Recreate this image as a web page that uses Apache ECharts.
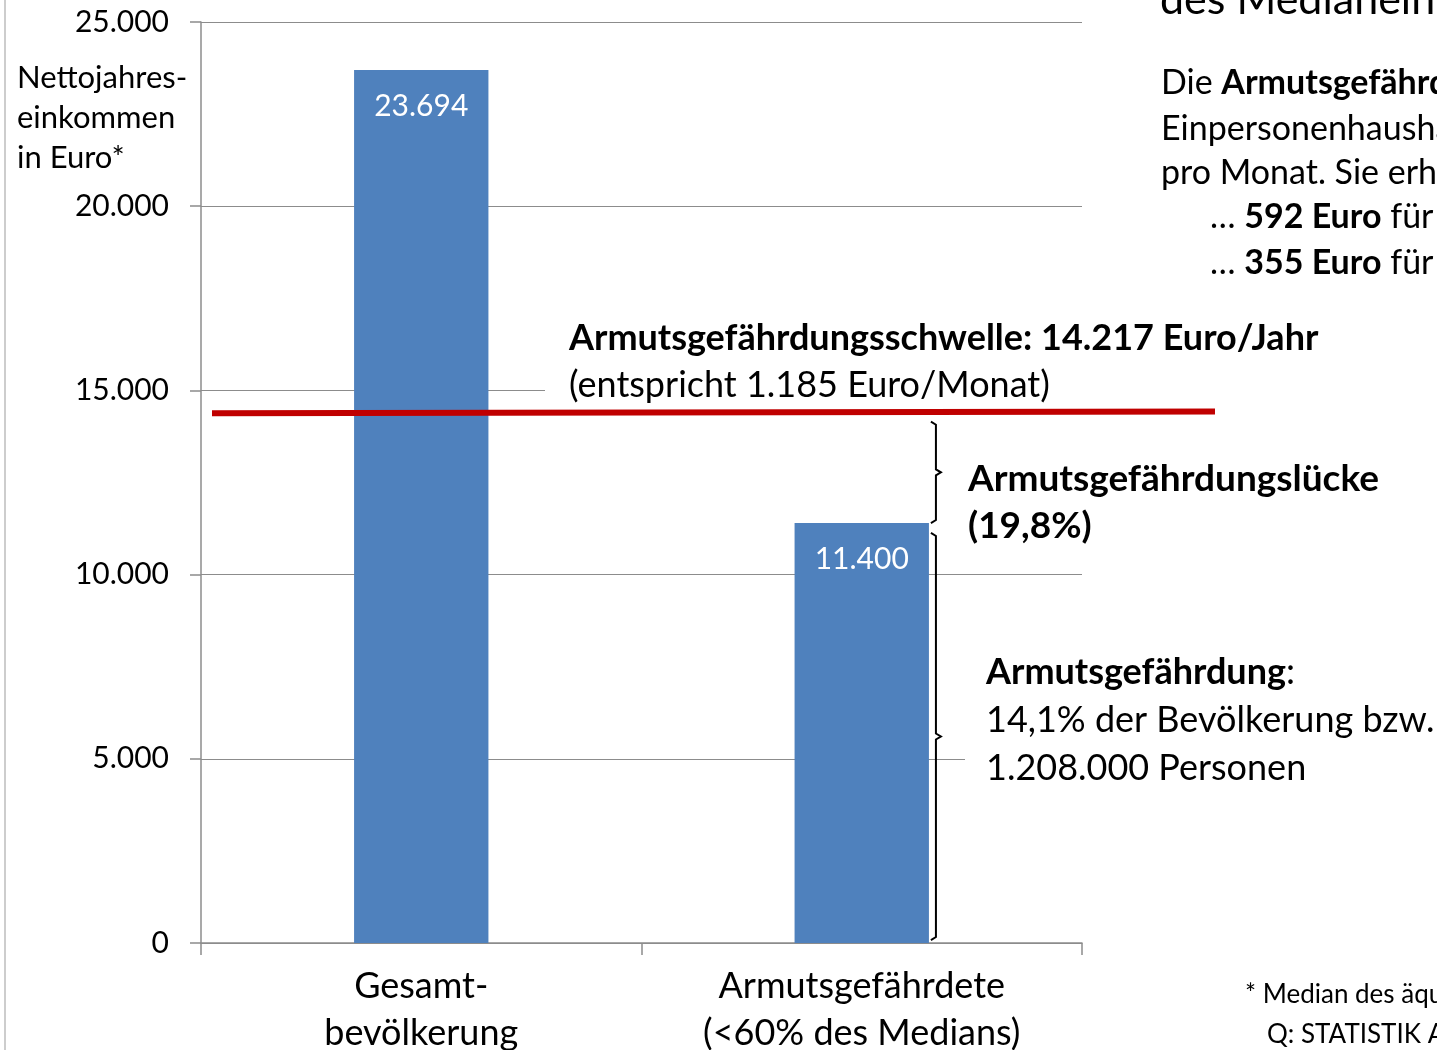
<!DOCTYPE html>
<html>
<head>
<meta charset="utf-8">
<script src="https://cdn.jsdelivr.net/npm/echarts@6/dist/echarts.min.js"></script>
<style>
  html, body { margin: 0; padding: 0; background: #fff; }
  #chart { width: 1437px; height: 1050px; }
</style>
</head>
<body>
<div id="chart"></div>
<script>
// data
const categories = ['Gesamt-\nbevölkerung', 'Armutsgefährdete\n(<60% des Medians)']
const incomeValues = [23694, 11400]
const yMin = 0
const yMax = 25000
const yStep = 5000
// red threshold line as drawn (slightly rising to the right)
const thresholdLine = [[0, 14380], [1, 14430]]
// brackets on the right of the second bar: [category, from, to]
const brackets = [[1, 14150, 11400], [1, 11130, 80]]

const FONT = 'Lato, "Noto Sans", sans-serif'
const fmt = v => String(v).replace(/\B(?=(\d{3})+(?!\d))/g, '.')

const chart = echarts.init(document.getElementById('chart'))

const bracketItem = (params, api) => {
  const cat = api.value(0)
  const top = api.coord([cat, api.value(1)])
  const bot = api.coord([cat, api.value(2)])
  const band = api.size([1, 0])[0]
  const x = top[0] + band * 0.305 / 2 + 7
  const mid = (top[1] + bot[1]) / 2
  return {
    type: 'polyline',
    shape: {
      points: [[x - 5, top[1]], [x, top[1] + 3], [x, mid - 3], [x + 5, mid],
        [x, mid + 3], [x, bot[1] - 3], [x - 5, bot[1]]]
    },
    style: { stroke: '#000', lineWidth: 2, fill: null }
  }
}

const txt = (x, y, text, size, rich, extra) => Object.assign({
  type: 'text',
  x: x,
  y: y,
  z: 10,
  style: Object.assign({
    text: text,
    fontFamily: FONT,
    fontSize: size,
    fill: '#000',
    verticalAlign: 'middle',
    rich: rich || {}
  }, extra || {})
})

const b = (size, lh) => ({ fontWeight: 'bold', fontSize: size, fontFamily: FONT, fill: '#000', lineHeight: lh })
const n = (size, lh) => ({ fontSize: size, fontFamily: FONT, fill: '#000', lineHeight: lh })

const option = {
  backgroundColor: '#fff',
  animation: false,
  grid: [
    { left: 201, width: 881, top: 22, height: 921, outerBoundsMode: 'none', containLabel: false },
    { left: 212, width: 1003, top: 22, height: 921, outerBoundsMode: 'none', containLabel: false }
  ],
  xAxis: [
    {
      type: 'category',
      data: categories,
      gridIndex: 0,
      axisLine: { lineStyle: { color: '#8c8c8c', width: 1.5 } },
      axisTick: { show: true, length: 12, lineStyle: { color: '#8c8c8c', width: 1.5 } },
      axisLabel: { fontFamily: FONT, fontSize: 36, lineHeight: 47, color: '#000', margin: 20 }
    },
    { type: 'value', gridIndex: 1, min: 0, max: 1, show: false }
  ],
  yAxis: [
    {
      type: 'value',
      gridIndex: 0,
      min: yMin,
      max: yMax,
      interval: yStep,
      axisLine: { show: true, lineStyle: { color: '#8c8c8c', width: 1.5 } },
      axisTick: { show: true, length: 11, lineStyle: { color: '#8c8c8c', width: 1.5 } },
      splitLine: { lineStyle: { color: '#8c8c8c', width: 1.2 } },
      axisLabel: { fontFamily: FONT, fontSize: 30, color: '#000', margin: 32, formatter: fmt }
    },
    { type: 'value', gridIndex: 1, min: yMin, max: yMax, show: false }
  ],
  series: [
    {
      type: 'bar',
      data: incomeValues,
      barWidth: '30.5%',
      itemStyle: { color: '#4F81BD' },
      label: {
        show: true,
        position: 'insideTop',
        distance: 21,
        color: '#fff',
        fontFamily: FONT,
        fontSize: 30,
        formatter: p => fmt(p.value)
      },
      z: 2
    },
    {
      type: 'custom',
      data: brackets,
      renderItem: bracketItem,
      encode: { x: 0, y: [1, 2] },
      clip: false,
      z: 5
    },
    {
      type: 'line',
      xAxisIndex: 1,
      yAxisIndex: 1,
      data: thresholdLine,
      symbol: 'none',
      lineStyle: { color: '#C00000', width: 6 },
      z: 20
    }
  ],
  graphic: [
    { type: 'line', shape: { x1: 5, y1: 0, x2: 5, y2: 1050 }, style: { stroke: '#bdbdbd', lineWidth: 1.5 } },
    txt(17, 118, 'Nettojahres-\neinkommen\nin Euro*', 31, null, { lineHeight: 40 }),
    // threshold text (white box hides grid line)
    txt(545, 362, '{b|Armutsgefährdungsschwelle: 14.217 Euro/Jahr}\n{n|(entspricht 1.185 Euro/Monat)}', 36,
      { b: b(36, 47), n: n(36, 47) },
      { backgroundColor: '#fff', padding: [4, 10, 4, 24] }),
    txt(968, 503, '{b|Armutsgefährdungslücke}\n{b|(19,8%)}', 37,
      { b: b(37, 47) }),
    txt(965, 720, '{b|Armutsgefährdung}{n|:}\n{n|14,1% der Bevölkerung bzw.}\n{n|1.208.000 Personen}', 36,
      { b: b(36, 48), n: n(36, 48) },
      { backgroundColor: '#fff', padding: [4, 10, 4, 21] }),
    // right-hand paragraph (cut off by the slide edge)
    txt(1160, 0, 'des Medianeinkommens', 43),
    txt(1161, 83, '{n|Die }{b|Armutsgefährdungsschwelle}', 34, { b: b(34), n: n(34) }),
    txt(1161, 129, 'Einpersonenhaushalt', 34),
    txt(1161, 173, 'pro Monat. Sie erhöht sich', 34),
    txt(1210, 217, '{n|… }{b|592 Euro}{n| für}', 34, { b: b(34), n: n(34) }),
    txt(1210, 263, '{n|… }{b|355 Euro}{n| für}', 34, { b: b(34), n: n(34) }),
    // footnote
    txt(1245, 995, '* Median des äquivalisierten', 26),
    txt(1267, 1035, 'Q: STATISTIK AUSTRIA', 26)
  ]
}

chart.setOption(option)
</script>
</body>
</html>
